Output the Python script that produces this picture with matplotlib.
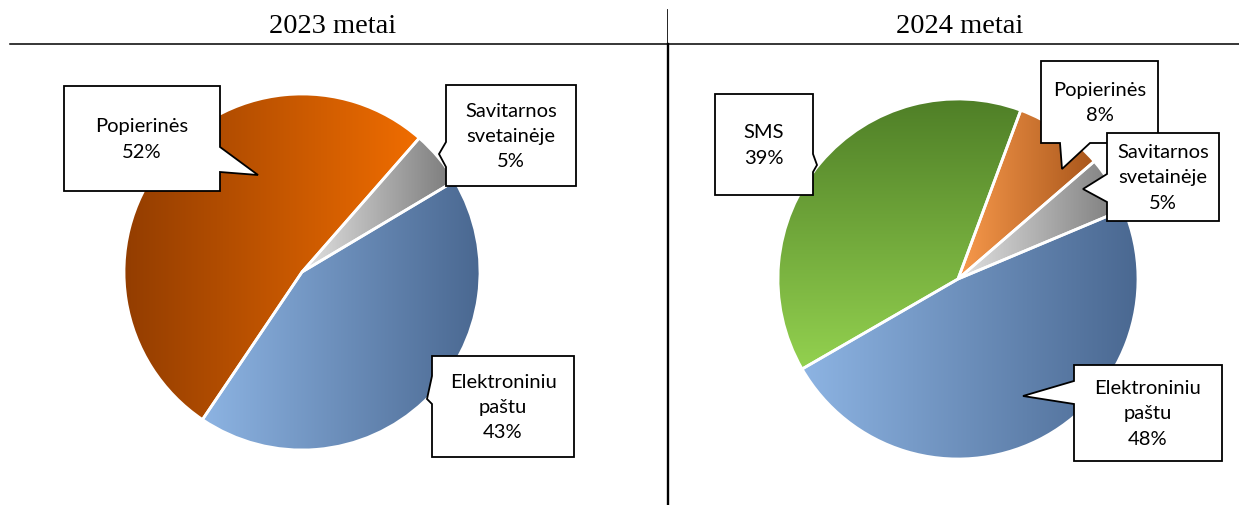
import numpy as np
import matplotlib
matplotlib.use("Agg")
import matplotlib.pyplot as plt
from matplotlib.colors import LinearSegmentedColormap
from matplotlib.patches import Polygon

# ==========================
# DATA
# ==========================

titles = ["2023 metai", "2024 metai"]

labels_2023 = ["Popierinės", "Savitarnos\nsvetainėje", "Elektroniniu\npaštu"]
values_2023 = [52, 5, 43]

labels_2024 = ["SMS", "Popierinės", "Savitarnos\nsvetainėje", "Elektroniniu\npaštu"]
values_2024 = [39, 8, 5, 48]

# ==========================
# STYLE / LAYOUT (pixels, top-left origin)
# ==========================

W, H = 1239, 506

# gradient per slice: (direction, start colour, end colour)
grad_2023 = [("h", "#933D01", "#F06D00"),
             ("h", "#E2E2E2", "#7A7A7A"),
             ("h", "#8DB4E3", "#4A6891")]
grad_2024 = [("v", "#4F7F27", "#93D14F"),
             ("h", "#F89A4C", "#A9561B"),
             ("h", "#E2E2E2", "#7A7A7A"),
             ("h", "#8DB4E3", "#4A6891")]

pie_2023 = dict(center=(302, 273), radius=178, startangle=236, explode=[0, 0, 0])
pie_2024 = dict(center=(958, 280), radius=180, startangle=210, explode=[0, 0.03, 0.03, 0])

# callouts: box (x0, y0, x1, y1), side of pointer, base span on that side, tip
callouts_2023 = [
    dict(box=(64, 87, 220, 192), side="right", base=(148, 173), tip=(258, 176)),
    dict(box=(446, 86, 576, 187), side="left", base=(143, 168), tip=(439, 155)),
    dict(box=(432, 357, 574, 458), side="left", base=(377, 405), tip=(427, 400)),
]
callouts_2024 = [
    dict(box=(715, 95, 813, 196), side="right", base=(155, 173), tip=(817, 166)),
    dict(box=(1041, 62, 1158, 144), side="bottom", base=(1060, 1090), tip=(1062, 170)),
    dict(box=(1107, 134, 1219, 222), side="left", base=(175, 203), tip=(1083, 190)),
    dict(box=(1074, 366, 1222, 462), side="left", base=(382, 405), tip=(1023, 397)),
]

LABEL_FONT = "Lato"
TITLE_FONT = "Liberation Serif"


def fy(y):
    # pixel row -> data y
    return H - y


def draw_pie(ax, values, grads, cfg):
    cx, cy = cfg["center"]
    wedges, _ = ax.pie(values, center=(cx, fy(cy)), radius=cfg["radius"],
                       startangle=cfg["startangle"], counterclock=False,
                       explode=cfg["explode"], frame=True,
                       wedgeprops=dict(edgecolor="white", linewidth=2.0))
    for w, (d, c0, c1) in zip(wedges, grads):
        ext = w.get_path().get_extents()
        cmap = LinearSegmentedColormap.from_list("g", [c0, c1])
        if d == "h":
            arr = np.linspace(0, 1, 256).reshape(1, -1)
        else:
            arr = np.linspace(1, 0, 256).reshape(-1, 1)
        im = ax.imshow(arr, cmap=cmap, extent=(ext.x0, ext.x1, ext.y0, ext.y1),
                       origin="lower", aspect="auto", interpolation="bilinear",
                       zorder=0)
        im.set_clip_path(w)
        w.set_facecolor("none")
        w.set_zorder(1)
    return wedges


def draw_callout(ax, text, c):
    x0, y0, x1, y1 = c["box"]
    side, (b0, b1), tip = c["side"], c["base"], c["tip"]
    pts = [(x0, y0), (x1, y0)]
    if side == "right":
        pts += [(x1, b0), tip, (x1, b1)]
    pts += [(x1, y1)]
    if side == "bottom":
        pts += [(b1, y1), tip, (b0, y1)]
    pts += [(x0, y1)]
    if side == "left":
        pts += [(x0, b1), tip, (x0, b0)]
    poly = Polygon([(x, fy(y)) for x, y in pts], closed=True, facecolor="white",
                   edgecolor="black", linewidth=1.3, joinstyle="miter", zorder=5)
    ax.add_patch(poly)
    ax.text((x0 + x1) / 2, fy((y0 + y1) / 2), text, ha="center", va="center",
            family=LABEL_FONT, fontsize=14.5, linespacing=1.6, zorder=6)


fig = plt.figure(figsize=(W / 100, H / 100), dpi=100)
ax = fig.add_axes([0, 0, 1, 1])

draw_pie(ax, values_2023, grad_2023, pie_2023)
draw_pie(ax, values_2024, grad_2024, pie_2024)

for lab, val, c in zip(labels_2023, values_2023, callouts_2023):
    draw_callout(ax, f"{lab}\n{val}%", c)
for lab, val, c in zip(labels_2024, values_2024, callouts_2024):
    draw_callout(ax, f"{lab}\n{val}%", c)

# titles and separator lines
ax.text(333, fy(26), titles[0], ha="center", va="center", family=TITLE_FONT, fontsize=20.5)
ax.text(960, fy(26), titles[1], ha="center", va="center", family=TITLE_FONT, fontsize=20.5)
ax.plot([10, W], [fy(45), fy(45)], color="black", linewidth=1.1, zorder=7)
ax.plot([667, 667], [fy(10), fy(45)], color="black", linewidth=0.6, zorder=7)
ax.plot([668, 668], [fy(45), fy(505)], color="black", linewidth=1.7, zorder=7)

ax.set_xlim(0, W)
ax.set_ylim(0, H)
ax.set_aspect("auto")
ax.axis("off")

fig.savefig("out.png", dpi=100)
